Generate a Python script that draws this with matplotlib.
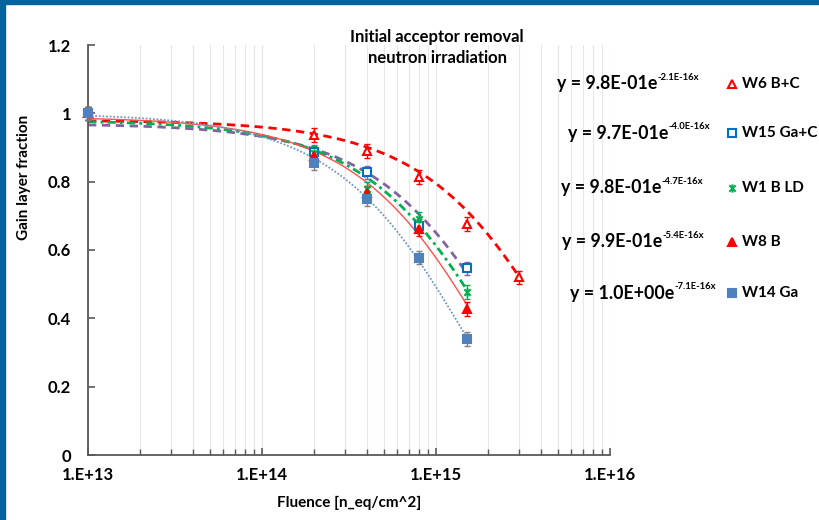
import numpy as np
import matplotlib
matplotlib.use("Agg")
import matplotlib.pyplot as plt
from matplotlib.path import Path
from matplotlib.lines import Line2D
from matplotlib.ticker import LogLocator, NullFormatter, FixedLocator

plt.rcParams['font.family'] = ['Lato', 'DejaVu Sans']
plt.rcParams['font.weight'] = 'bold'

# data
fluence = [1e13, 2e14, 4e14, 8e14, 1.5e15]
fluence_w6 = [1e13, 2e14, 4e14, 8e14, 1.5e15, 3e15]

w6 = [1.0, 0.936, 0.890, 0.813, 0.676, 0.520]
w15 = [1.0, 0.887, 0.827, 0.670, 0.546]
w1 = [1.0, 0.885, 0.778, 0.690, 0.478]
w8 = [1.0, 0.874, 0.768, 0.661, 0.427]
w14 = [1.0, 0.855, 0.748, 0.578, 0.339]
err = 0.02

labels = ["W6 B+C", "W15 Ga+C", "W1 B LD", "W8 B", "W14 Ga"]
# exponential trendline coefficients y = a*exp(-b*x)
fit_a = [0.98, 0.97, 0.98, 0.99, 1.0]
fit_b = [2.1e-16, 4.0e-16, 4.7e-16, 5.4e-16, 7.1e-16]
eq_base = ["y = 9.8E-01e", "y = 9.7E-01e", "y = 9.8E-01e", "y = 9.9E-01e", "y = 1.0E+00e"]
eq_sup = ["-2.1E-16x", "-4.0E-16x", "-4.7E-16x", "-5.4E-16x", "-7.1E-16x"]

star = Path([(-1, -1), (1, 1), (-1, 1), (1, -1), (0, -1.3), (0, 1.3)],
            [Path.MOVETO, Path.LINETO, Path.MOVETO, Path.LINETO, Path.MOVETO, Path.LINETO])

series = [
    dict(x=fluence_w6, y=w6, marker='^', mfc='white', mec='#FF0000', ecol='#FF0000',
         lcol='#FF0000', ls=(0, (3, 2)), lw=2.0),
    dict(x=fluence, y=w15, marker='s', mfc='white', mec='#0070C0', ecol='#8064A2',
         lcol='#8064A2', ls=(0, (3, 2)), lw=2.0),
    dict(x=fluence, y=w1, marker=star, mfc='#00B050', mec='#00B050', ecol='#00B050',
         lcol='#00B050', ls=(0, (3, 1.5, 1, 1.5)), lw=2.0),
    dict(x=fluence, y=w8, marker='^', mfc='#FF0000', mec='#FF0000', ecol='#FF0000',
         lcol='#FF5050', ls='-', lw=1.0),
    dict(x=fluence, y=w14, marker='s', mfc='#4F81BD', mec='#4F81BD', ecol='#808080',
         lcol='#6F97C9', ls=(0, (1, 1)), lw=1.3),
]

fig = plt.figure(figsize=(8.19, 5.2), dpi=100)
fig.patches.append(plt.Rectangle((0, 1 - 4 / 520), 1, 4 / 520, transform=fig.transFigure,
                                 color='#05649E', zorder=0))
fig.patches.append(plt.Rectangle((0, 0), 5 / 819, 1, transform=fig.transFigure,
                                 color='#05649E', zorder=0))
ax = fig.add_axes([88 / 819, 1 - 455 / 520, (610 - 88) / 819, (455 - 45) / 520])

for i, s in enumerate(series):
    xs = np.logspace(13, np.log10(s['x'][-1]), 300)
    ax.plot(xs, fit_a[i] * np.exp(-fit_b[i] * xs), color=s['lcol'], ls=s['ls'], lw=s['lw'], zorder=2)
    ax.errorbar(s['x'], s['y'], yerr=err, fmt='none', ecolor=s['ecol'], elinewidth=1,
                capsize=2.5, capthick=1, zorder=3, clip_on=False)
    ax.plot(s['x'], s['y'], ls='none', marker=s['marker'], mfc=s['mfc'], mec=s['mec'],
            ms=6, mew=1.5, zorder=4, clip_on=False)

ax.set_xscale('log')
ax.set_xlim(1e13, 1e16)
ax.set_ylim(0, 1.2)
ax.xaxis.set_major_locator(FixedLocator([1e13, 1e14, 1e15, 1e16]))
ax.xaxis.set_minor_locator(LogLocator(base=10, subs=np.arange(2, 10)))
ax.xaxis.set_minor_formatter(NullFormatter())
ax.set_xticklabels(["1.E+13", "1.E+14", "1.E+15", "1.E+16"])
ax.set_yticks([0, 0.2, 0.4, 0.6, 0.8, 1.0, 1.2])
ax.set_yticklabels(["0", "0.2", "0.4", "0.6", "0.8", "1", "1.2"])
ax.grid(True, which='both', axis='x', color='#E8E8E8', lw=0.8, zorder=0)
ax.set_axisbelow(True)
for sp in ['top', 'right']:
    ax.spines[sp].set_visible(False)
for sp in ['left', 'bottom']:
    ax.spines[sp].set_color('#595959')
    ax.spines[sp].set_linewidth(1.3)
ax.tick_params(which='major', direction='in', length=5, width=1.2, color='#595959',
               labelsize=12, pad=9)
ax.tick_params(which='minor', direction='in', length=4, width=1, color='#595959')
ax.tick_params(axis='y', pad=12)
for lab in ax.get_xticklabels() + ax.get_yticklabels():
    lab.set_fontweight('bold')

ax.set_xlabel("Fluence [n_eq/cm^2]", fontsize=11, fontweight='bold', labelpad=9)
ax.set_ylabel("Gain layer fraction", fontsize=11, fontweight='bold', labelpad=12)
ax.yaxis.set_label_coords(-0.11, (455 - 177) / 410)

fig.text(437 / 819, 1 - 37 / 520, "Initial acceptor removal", ha='center', va='center',
         fontsize=12, fontweight='bold')
fig.text(437 / 819, 1 - 58 / 520, "neutron irradiation", ha='center', va='center',
         fontsize=12, fontweight='bold')

row_y = [84, 133, 188, 242, 293]
eq_x = [557, 568, 561, 562, 570]
for i in range(5):
    t = fig.text(eq_x[i] / 819, 1 - row_y[i] / 520, eq_base[i], ha='left', va='center',
                 fontsize=12.8, fontweight='bold')
    ax.annotate(eq_sup[i], xy=(1, 0.6), xycoords=t, ha='left', va='bottom',
                fontsize=6.8, fontweight='bold', annotation_clip=False)
    fig.add_artist(Line2D([732 / 819], [1 - row_y[i] / 520], ls='none', marker=series[i]['marker'],
                          mfc=series[i]['mfc'], mec=series[i]['mec'], ms=6, mew=1.5,
                          transform=fig.transFigure))
    fig.text(742 / 819, 1 - row_y[i] / 520, labels[i], ha='left', va='center',
             fontsize=11, fontweight='bold')

fig.savefig("out.png", dpi=100)
